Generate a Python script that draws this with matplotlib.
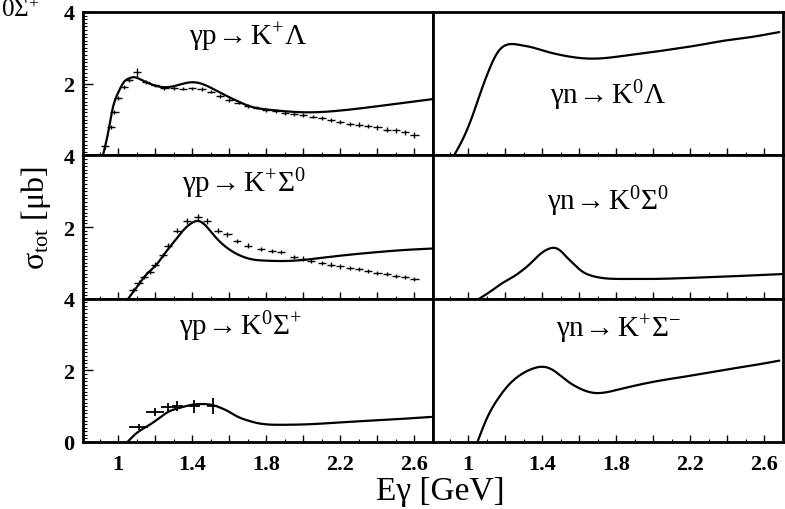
import matplotlib
matplotlib.use("Agg")
import matplotlib.pyplot as plt
import numpy as np
from matplotlib.ticker import MultipleLocator, FixedLocator, FuncFormatter

plt.rcParams['font.family'] = ['Liberation Serif', 'DejaVu Serif']
plt.rcParams['mathtext.fontset'] = 'custom'
plt.rcParams['mathtext.rm'] = 'Liberation Serif'
plt.rcParams['mathtext.it'] = 'Liberation Serif:italic'
plt.rcParams['mathtext.bf'] = 'Liberation Serif:bold'

# ---------------- data ----------------
titles = [r"$\mathrm{\gamma p\!\rightarrow K^{+}\Lambda}$",
          r"$\mathrm{\gamma n\!\rightarrow K^{0}\Lambda}$",
          r"$\mathrm{\gamma p\!\rightarrow K^{+}\Sigma^{0}}$",
          r"$\mathrm{\gamma n\!\rightarrow K^{0}\Sigma^{0}}$",
          r"$\mathrm{\gamma p\!\rightarrow K^{0}\Sigma^{+}}$",
          r"$\mathrm{\gamma n\!\rightarrow K^{+}\Sigma^{-}}$"]

# model curves (E in GeV, sigma in microbarn)
kl_p_E = [0.918, 0.95, 0.97, 1.0, 1.03, 1.06, 1.08, 1.12, 1.18, 1.26, 1.33, 1.40, 1.46, 1.55, 1.65, 1.71, 1.80, 1.90, 2.02, 2.20, 2.40, 2.55, 2.70]
kl_p_S = [0.0, 0.75, 1.3, 1.75, 2.04, 2.15, 2.18, 2.12, 1.98, 1.90, 1.97, 2.04, 1.98, 1.75, 1.50, 1.37, 1.28, 1.23, 1.20, 1.25, 1.37, 1.47, 1.57]

kl_n_E = [0.924, 0.98, 1.03, 1.07, 1.11, 1.16, 1.22, 1.28, 1.34, 1.42, 1.50, 1.58, 1.65, 1.75, 1.83, 1.95, 2.10, 2.25, 2.37, 2.50, 2.68]
kl_n_S = [0.0, 0.55, 1.2, 1.8, 2.35, 2.88, 3.1, 3.08, 3.02, 2.9, 2.8, 2.73, 2.70, 2.72, 2.77, 2.85, 2.96, 3.08, 3.19, 3.28, 3.44]

ks0_p_E = [1.054, 1.10, 1.15, 1.21, 1.25, 1.30, 1.35, 1.40, 1.43, 1.47, 1.52, 1.58, 1.66, 1.72, 1.80, 1.88, 2.00, 2.10, 2.20, 2.40, 2.55, 2.70]
ks0_p_S = [0.0, 0.32, 0.66, 0.97, 1.25, 1.58, 1.9, 2.12, 2.17, 2.05, 1.75, 1.45, 1.2, 1.1, 1.06, 1.05, 1.08, 1.14, 1.2, 1.3, 1.36, 1.40]

ks0_n_E = [1.06, 1.12, 1.18, 1.24, 1.29, 1.34, 1.39, 1.43, 1.46, 1.50, 1.53, 1.57, 1.61, 1.66, 1.72, 1.85, 1.99, 2.20, 2.45, 2.71]
ks0_n_S = [0.0, 0.2, 0.42, 0.6, 0.78, 1.0, 1.25, 1.38, 1.42, 1.33, 1.17, 0.97, 0.78, 0.65, 0.58, 0.55, 0.55, 0.58, 0.63, 0.69]

k0sp_p_E = [1.05, 1.10, 1.16, 1.22, 1.27, 1.33, 1.39, 1.46, 1.51, 1.56, 1.60, 1.64, 1.70, 1.75, 1.88, 2.05, 2.24, 2.45, 2.69]
k0sp_p_S = [0.0, 0.25, 0.45, 0.66, 0.84, 0.95, 1.03, 1.06, 1.03, 0.94, 0.84, 0.72, 0.60, 0.53, 0.48, 0.50, 0.56, 0.62, 0.70]

kpsm_n_E = [1.05, 1.10, 1.16, 1.22, 1.29, 1.35, 1.40, 1.46, 1.52, 1.60, 1.68, 1.80, 2.00, 2.20, 2.37, 2.55, 2.68]
kpsm_n_S = [0.0, 0.65, 1.2, 1.6, 1.9, 2.05, 2.1, 2.0, 1.76, 1.5, 1.37, 1.45, 1.68, 1.85, 2.0, 2.15, 2.27]

# experimental data
kl_data_E = [0.93, 0.96, 0.98, 1.00, 1.03, 1.06, 1.10, 1.15, 1.20, 1.25, 1.30, 1.35, 1.40, 1.45, 1.50, 1.55, 1.60, 1.65, 1.70, 1.75, 1.80, 1.85, 1.90, 1.95, 2.00, 2.05, 2.10, 2.15, 2.20, 2.25, 2.30, 2.35, 2.40, 2.45, 2.50, 2.55, 2.60]
kl_data_S = [0.25, 0.8, 1.2, 1.6, 1.9, 2.1, 2.32, 2.05, 1.95, 1.88, 1.88, 1.86, 1.87, 1.85, 1.78, 1.66, 1.55, 1.47, 1.38, 1.33, 1.27, 1.23, 1.18, 1.15, 1.12, 1.08, 1.05, 0.98, 0.94, 0.88, 0.86, 0.82, 0.78, 0.72, 0.70, 0.65, 0.56]
kl_data_err = [0.06, 0.06, 0.06, 0.06, 0.06, 0.06, 0.12, 0.06, 0.05, 0.05, 0.05, 0.05, 0.05, 0.05, 0.05, 0.05, 0.05, 0.05, 0.05, 0.05, 0.05, 0.05, 0.05, 0.05, 0.05, 0.05, 0.06, 0.06, 0.06, 0.06, 0.06, 0.06, 0.07, 0.07, 0.07, 0.07, 0.08]

ks0_data_E = [1.08, 1.11, 1.14, 1.17, 1.20, 1.24, 1.27, 1.32, 1.37, 1.43, 1.48, 1.54, 1.59, 1.64, 1.70, 1.77, 1.83, 1.88, 1.95, 2.00, 2.04, 2.10, 2.15, 2.20, 2.25, 2.30, 2.35, 2.40, 2.45, 2.50, 2.55, 2.60]
ks0_data_S = [0.25, 0.45, 0.6, 0.75, 0.95, 1.22, 1.47, 1.9, 2.17, 2.27, 2.17, 1.9, 1.8, 1.6, 1.48, 1.39, 1.34, 1.30, 1.17, 1.12, 1.06, 1.0, 0.95, 0.9, 0.86, 0.82, 0.78, 0.72, 0.68, 0.64, 0.6, 0.55]
ks0_data_err = [0.06, 0.06, 0.06, 0.06, 0.06, 0.06, 0.08, 0.08, 0.08, 0.08, 0.08, 0.07, 0.07, 0.06, 0.06, 0.06, 0.06, 0.06, 0.06, 0.06, 0.06, 0.06, 0.06, 0.06, 0.06, 0.06, 0.06, 0.06, 0.06, 0.06, 0.06, 0.06]

k0sp_data_E = [1.11, 1.20, 1.27, 1.32, 1.41, 1.51]
k0sp_data_S = [0.42, 0.84, 0.98, 1.0, 1.0, 1.0]
k0sp_data_err = [0.08, 0.12, 0.12, 0.14, 0.18, 0.22]
k0sp_data_xerr = [0.05, 0.05, 0.04, 0.03, 0.03, 0.03]

curves = [(kl_p_E, kl_p_S), (kl_n_E, kl_n_S),
          (ks0_p_E, ks0_p_S), (ks0_n_E, ks0_n_S),
          (k0sp_p_E, k0sp_p_S), (kpsm_n_E, kpsm_n_S)]
datasets = {0: (kl_data_E, kl_data_S, 0.022, kl_data_err),
            2: (ks0_data_E, ks0_data_S, 0.022, ks0_data_err),
            4: (k0sp_data_E, k0sp_data_S, k0sp_data_xerr, k0sp_data_err)}

title_pos = [(0.47, 0.83), (0.50, 0.42), (0.46, 0.81), (0.50, 0.68), (0.45, 0.81), (0.53, 0.79)]

xticks_lab = [1.0, 1.4, 1.8, 2.2, 2.6]
xlim = (0.81, 2.70)
ylim = (0.0, 4.0)

# ---------------- figure ----------------
fig, axes = plt.subplots(3, 2, figsize=(7.85, 5.10), dpi=100)
fig.subplots_adjust(left=83/785, right=783/785, top=1-13/510, bottom=1-443/510,
                    hspace=0, wspace=0)


def spline(xs, ys, n=400):
    """Natural cubic spline through the read points."""
    x = np.asarray(xs, float); y = np.asarray(ys, float)
    m = len(x)
    h = np.diff(x)
    A = np.zeros((m, m)); b = np.zeros(m)
    A[0, 0] = 1; A[-1, -1] = 1
    for i in range(1, m - 1):
        A[i, i - 1] = h[i - 1]
        A[i, i] = 2 * (h[i - 1] + h[i])
        A[i, i + 1] = h[i]
        b[i] = 3 * ((y[i + 1] - y[i]) / h[i] - (y[i] - y[i - 1]) / h[i - 1])
    c = np.linalg.solve(A, b)
    bb = (y[1:] - y[:-1]) / h - h * (2 * c[:-1] + c[1:]) / 3
    d = (c[1:] - c[:-1]) / (3 * h)
    xx = np.linspace(x[0], x[-1], n)
    j = np.clip(np.searchsorted(x, xx) - 1, 0, m - 2)
    t = xx - x[j]
    yy = y[j] + bb[j] * t + c[j] * t ** 2 + d[j] * t ** 3
    return xx, yy


for idx, ax in enumerate(axes.flat):
    r, c = divmod(idx, 2)
    ex, ey = curves[idx]
    sx, sy = spline(ex, ey)
    ax.plot(sx, sy, color='black', lw=1.6, solid_capstyle='round')
    if idx in datasets:
        dx, dy, xe, ye = datasets[idx]
        ax.errorbar(dx, dy, xerr=xe, yerr=ye, fmt='none', ecolor='black',
                    elinewidth=1.0 if idx != 4 else 1.3, capsize=0)
    ax.set_xlim(*xlim)
    ax.set_ylim(*ylim)
    for s in ax.spines.values():
        s.set_linewidth(2.0)
        s.set_color('black')
    ax.xaxis.set_major_locator(MultipleLocator(0.2))
    ax.xaxis.set_minor_locator(MultipleLocator(0.1))
    ax.tick_params(axis='x', which='major', direction='in', length=5, width=1, bottom=True, top=False)
    ax.tick_params(axis='x', which='minor', direction='in', length=2.5, width=0.8, bottom=True, top=False)
    if r == 2:
        ax.xaxis.set_major_formatter(FuncFormatter(
            lambda v, p: ("%g" % round(v, 1)) if any(abs(v - t) < 1e-6 for t in xticks_lab) else ""))
        ax.tick_params(axis='x', which='major', labelsize=16, pad=9)
    else:
        ax.tick_params(axis='x', labelbottom=False)
    if c == 0:
        ax.yaxis.set_major_locator(FixedLocator([0, 2, 4]))
        ax.yaxis.set_minor_locator(MultipleLocator(0.1))
        ax.tick_params(axis='y', which='major', direction='in', length=7, width=1, left=True, right=False,
                       labelsize=16, pad=6)
        ax.tick_params(axis='y', which='minor', direction='in', length=3, width=0.8, left=True, right=False)
        ax.yaxis.set_major_formatter(FuncFormatter(
            lambda v, p, rr=r: "" if (v == 0 and rr < 2) else "%d" % v))
    else:
        ax.tick_params(axis='y', which='both', left=False, right=False, labelleft=False)
    tx, ty = title_pos[idx]
    ax.text(tx, ty, titles[idx], transform=ax.transAxes, ha='center', va='center', fontsize=21)

# bold tick labels
for ax in axes.flat:
    for lab in ax.get_xticklabels() + ax.get_yticklabels():
        lab.set_fontweight('bold')
        lab.set_family('Liberation Serif')

fig.text(440/785, 1-492/510, "Eγ [GeV]", ha='center', va='center', fontsize=24)
fig.text(36/785, 1-218/510, r"σ$_{\mathrm{tot}}$ [μb]", ha='center', va='center',
         rotation=90, fontsize=23)
# fragment of a neighbouring label in the source image
fig.text(1/785, 1-11/510, r"$\mathrm{0\Sigma^{+}}$", ha='left', va='center', fontsize=18)

fig.savefig("out.png", dpi=100)
